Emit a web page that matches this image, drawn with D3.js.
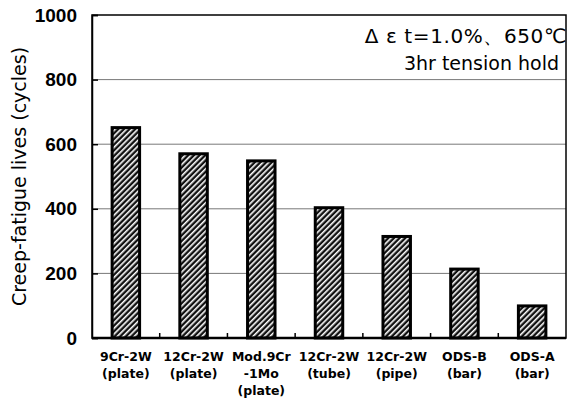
<!DOCTYPE html>
<html><head><meta charset="utf-8">
<script src="https://cdn.jsdelivr.net/npm/d3@7"></script>
<style>body{margin:0;background:#fff;} svg{display:block;}</style>
</head><body>
<script>
const categories = [
  ["9Cr-2W","(plate)"],
  ["12Cr-2W","(plate)"],
  ["Mod.9Cr","-1Mo","(plate)"],
  ["12Cr-2W","(tube)"],
  ["12Cr-2W","(pipe)"],
  ["ODS-B","(bar)"],
  ["ODS-A","(bar)"]
];
const values = [656, 575, 553, 408, 319, 218, 104];
const yTicks = [0, 200, 400, 600, 800, 1000];
const yLabel = "Creep-fatigue lives (cycles)";
const noteLines = ["Δ ε t=1.0%、650℃", "3hr tension hold"];

const W = 568, H = 403;
const m = {left: 92, right: 2, top: 15, bottom: 65};
const svg = d3.select("body").append("svg").attr("width", W).attr("height", H);
const defs = svg.append("defs");
const pat = defs.append("pattern").attr("id","hatch").attr("patternUnits","userSpaceOnUse")
  .attr("width",4).attr("height",4).attr("patternTransform","rotate(45)");
pat.append("rect").attr("width",4).attr("height",4).attr("fill","#111");
pat.append("rect").attr("x",0).attr("width",1.6).attr("height",4).attr("fill","#fff");

const x = d3.scaleBand().domain(d3.range(categories.length)).range([m.left, W - m.right]).paddingInner(0.55).paddingOuter(0.275);
const y = d3.scaleLinear().domain([0, 1000]).range([H - m.bottom, m.top]);

const font = "'Liberation Sans', Arial, sans-serif";
const font2 = "'DejaVu Sans', sans-serif";

// grid
svg.append("g").selectAll("line").data(yTicks.filter(d => d > 0 && d < 1000)).join("line")
  .attr("x1", m.left).attr("x2", W - m.right).attr("y1", d => y(d)).attr("y2", d => y(d))
  .attr("stroke", "#555").attr("stroke-width", 0.8);

// bars
svg.append("g").selectAll("rect").data(values).join("rect")
  .attr("x", (d,i) => x(i) + 1.5).attr("width", x.bandwidth() - 3)
  .attr("y", d => y(d) + 1.5).attr("height", d => y(0) - y(d) - 1.5)
  .attr("fill", "url(#hatch)").attr("stroke", "#000").attr("stroke-width", 3);

// frame
svg.append("rect").attr("x", m.left).attr("y", m.top).attr("width", W - m.right - m.left).attr("height", y(0) - m.top)
  .attr("fill","none").attr("stroke","#000").attr("stroke-width",1.5);
svg.append("line").attr("x1", m.left).attr("x2", W - m.right).attr("y1", y(0)).attr("y2", y(0)).attr("stroke","#000").attr("stroke-width",2.5);

// y axis
const yAxis = svg.append("g").attr("transform", `translate(${m.left},0)`)
  .call(d3.axisLeft(y).tickValues(yTicks).tickSize(-6).tickPadding(15).tickFormat(d3.format("d")));
yAxis.select(".domain").attr("stroke","#000").attr("stroke-width",1.5);
yAxis.selectAll(".tick line").attr("stroke","#000").attr("stroke-width",1.5);
yAxis.selectAll("text").attr("font-family", font).attr("font-size", 19).attr("font-weight","bold").attr("fill","#000");

// x ticks at band boundaries
const bounds = d3.range(1, categories.length).map(i => x(i) - x.step() * x.paddingInner() / 2);
svg.append("g").selectAll("line").data(bounds).join("line")
  .attr("x1", d => d).attr("x2", d => d).attr("y1", y(0)).attr("y2", y(0) - 5)
  .attr("stroke","#000").attr("stroke-width",1.5);

// x labels
const xl = svg.append("g").selectAll("text").data(categories).join("text")
  .attr("text-anchor","middle").attr("font-family", font2).attr("font-size", 12.5).attr("font-weight","bold")
  .attr("transform", (d,i) => `translate(${x(i) + x.bandwidth()/2},${y(0) + 23})`);
xl.selectAll("tspan").data(d => d).join("tspan").attr("x", 0).attr("dy", (d,j) => j === 0 ? 0 : 17).text(d => d);

// y label
svg.append("text").attr("transform", `translate(26,${(m.top + y(0))/2}) rotate(-90)`)
  .attr("text-anchor","middle").attr("font-family", font2).attr("font-size", 19).attr("fill","#000")
  .text(yLabel);

// note
svg.append("g").selectAll("text").data(noteLines).join("text")
  .attr("x", (d,i) => i === 0 ? 567 : 559).attr("y", (d,i) => 43 + i * 27).attr("text-anchor","end")
  .attr("font-family", font2).attr("font-size", (d,i) => i === 0 ? 20 : 19)
  .attr("letter-spacing", (d,i) => i === 0 ? 0.6 : 0)
  .attr("fill","#000").text(d => d);
</script>
</body></html>
